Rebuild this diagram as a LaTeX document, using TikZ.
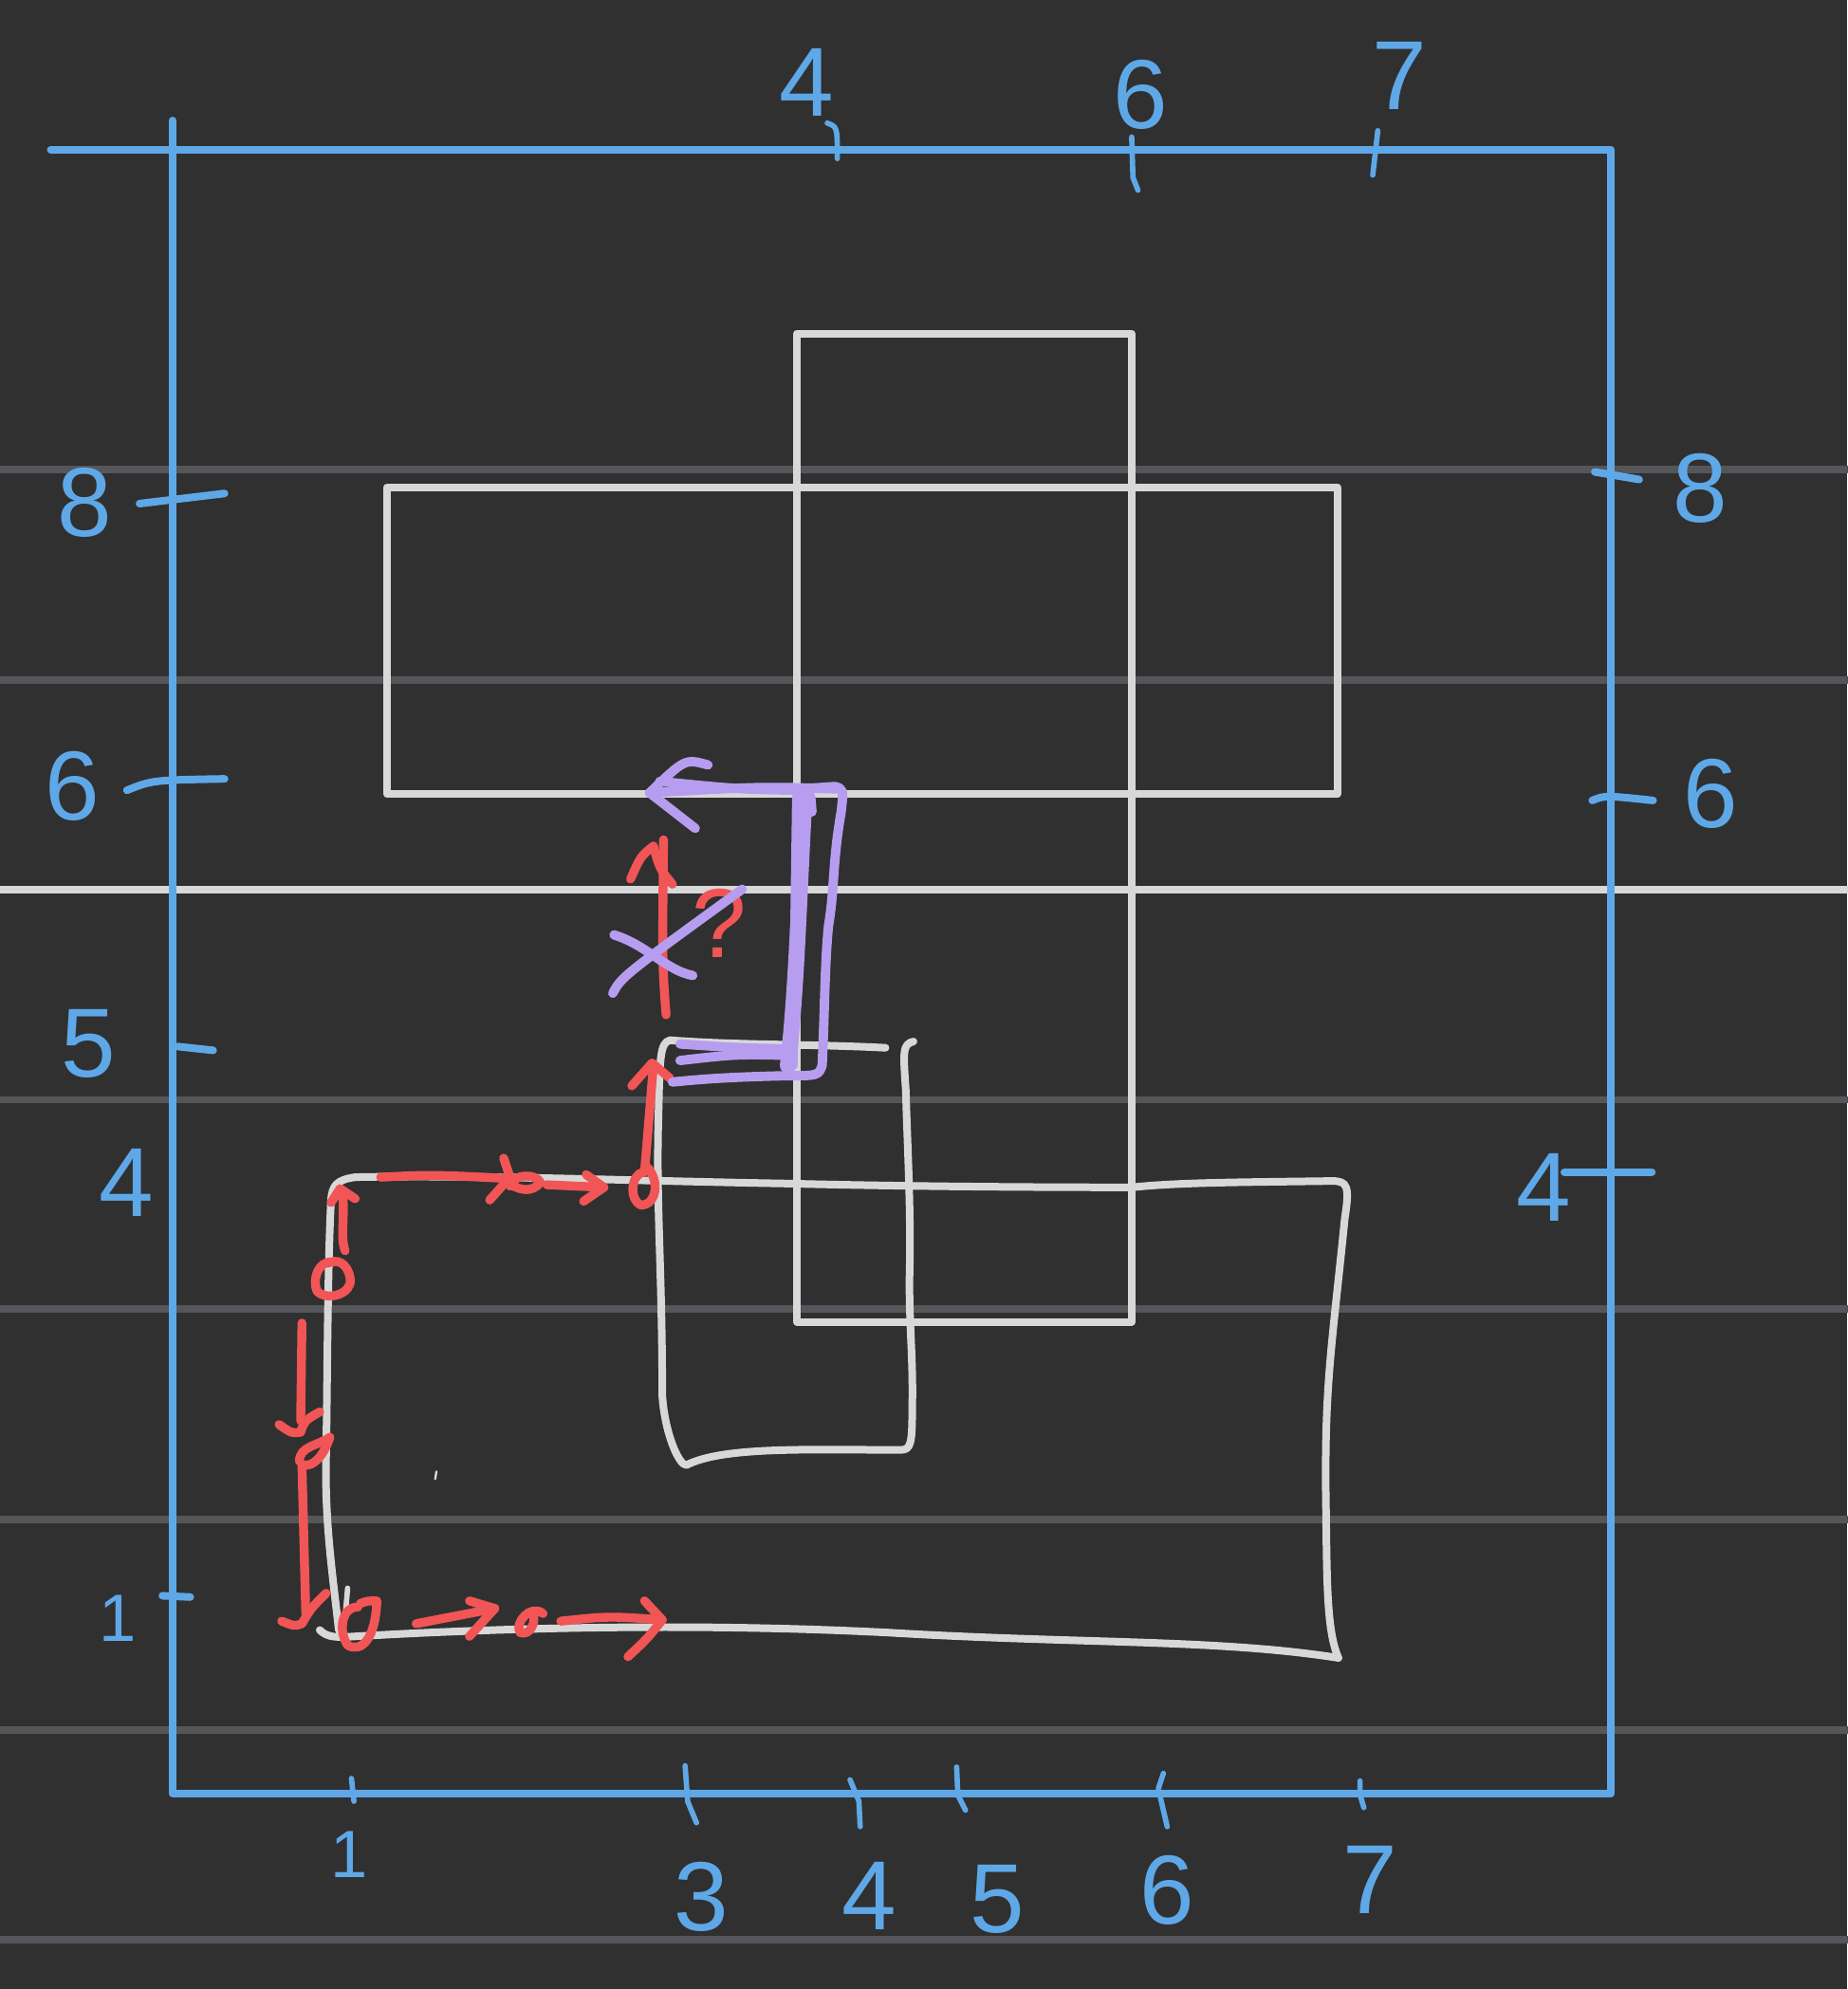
\documentclass[tikz,border=0pt]{standalone}
\usepackage{fontspec}
\setmainfont{Liberation Sans}
\definecolor{bgc}{HTML}{303030}
\definecolor{gridc}{HTML}{55565A}
\definecolor{wht}{HTML}{D8D8D8}
\definecolor{blu}{HTML}{5FA8E8}
\definecolor{redc}{HTML}{F25555}
\definecolor{purc}{HTML}{B69DF0}
\begin{document}
\begin{tikzpicture}[x=0.01cm,y=-0.01cm,line cap=round,line join=round,
  gridline/.style={draw=gridc,line width=1.6pt},
  wline/.style={draw=wht,line width=1.7pt},
  bline/.style={draw=blu,line width=1.7pt},
  rline/.style={draw=redc,line width=2pt},
  pline/.style={draw=purc,line width=2.1pt},
  lbl/.style={text=blu,font=\fontsize{22}{26}\selectfont,inner sep=0pt},
  slbl/.style={text=blu,font=\fontsize{15}{18}\selectfont,inner sep=0pt},
  qlbl/.style={text=redc,font=\fontsize{22}{26}\selectfont,inner sep=0pt}]
\fill[bgc] (0,0) rectangle (1456,1568);
\useasboundingbox (0,0) rectangle (1456,1568);
% grid
\foreach \yy in {370,536,867,1032,1198,1364,1529}
  \draw[gridline] (0,\yy) -- (1456,\yy);
\draw[wline] (0,701) -- (1456,701);
% blue frame
\draw[bline] (40,118) -- (1270,118) -- (1270,1414) -- (136,1414) -- (136,95);
% top ticks
\draw[bline,line width=1.2pt] (652,97) .. controls (660,100) .. (660,125);
\draw[bline,line width=1.2pt] (892,108) -- (893,140) -- (897,150);
\draw[bline,line width=1.2pt] (1086,103) -- (1082,138);
% left ticks
\draw[bline] (110,397) -- (177,389);
\draw[bline] (100,623) .. controls (120,615) .. (177,614);
\draw[bline] (140,825) -- (168,828);
\draw[bline] (128,1258) -- (150,1259);
% right ticks
\draw[bline] (1257,372) -- (1292,378);
\draw[bline] (1255,631) .. controls (1265,627) .. (1303,631);
\draw[bline] (1233,924) -- (1302,924);
% bottom ticks
\draw[bline,line width=1.2pt] (277,1402) -- (279,1420);
\draw[bline,line width=1.2pt] (540,1392) -- (542,1420) -- (549,1437);
\draw[bline,line width=1.2pt] (670,1403) -- (677,1420) -- (678,1440);
\draw[bline,line width=1.2pt] (754,1393) -- (755,1415) -- (761,1427);
\draw[bline,line width=1.2pt] (917,1398) -- (913,1410) -- (920,1440);
\draw[bline,line width=1.2pt] (1072,1404) -- (1072,1415) -- (1075,1425);
% labels
\node[lbl] (t4) at (636,65) {4};
\node[lbl] (t6) at (899,75) {6};
\node[lbl] (t7) at (1103,60) {7};
\node[lbl] (l8) at (67,396) {8};
\node[lbl] (l6) at (57,620) {6};
\node[lbl] (l5) at (70,823) {5};
\node[lbl] (l4) at (100,932) {4};
\node[slbl] (l1) at (93,1276) {1};
\node[lbl] (r8) at (1340,385) {8};
\node[lbl] (r6) at (1348,626) {6};
\node[lbl] (r4) at (1217,936) {4};
\node[slbl] (b1) at (275,1462) {1};
\node[lbl] (b3) at (553,1495) {3};
\node[lbl] (b4) at (685,1495) {4};
\node[lbl] (b5) at (786,1497) {5};
\node[lbl] (b6) at (920,1490) {6};
\node[lbl] (b7) at (1080,1482) {7};
% white rectangles
\draw[wline] (628,263) rectangle (892,1042);
\draw[wline] (305,384) rectangle (1054,626);
% big hand-drawn shape
\draw[wline] (252,1285) .. controls (258,1291) and (265,1291) .. (280,1290)
  .. controls (420,1282) and (560,1280) .. (700,1287)
  .. controls (850,1296) and (960,1292) .. (1055,1307)
  .. controls (1045,1285) and (1046,1240) .. (1045,1180)
  .. controls (1044,1090) and (1050,1060) .. (1060,960)
  .. controls (1064,935) and (1062,931) .. (1050,931)
  .. controls (980,932) and (930,932) .. (892,936)
  .. controls (800,936) and (700,935) .. (620,933)
  .. controls (500,931) and (380,926) .. (280,928)
  .. controls (265,930) and (262,935) .. (261,945)
  .. controls (258,1000) and (258,1100) .. (257,1150)
  .. controls (256,1200) and (262,1240) .. (267,1285);
\draw[wline,line width=1.2pt] (272,1275) -- (274,1252);
% inner hand-drawn shape
\draw[wline] (698,826) .. controls (640,823) and (580,824) .. (528,820)
  .. controls (520,822) and (520,835) .. (519,880)
  .. controls (517,950) and (522,1000) .. (522,1100)
  .. controls (524,1130) and (535,1155) .. (541,1155)
  .. controls (570,1140) and (640,1143) .. (710,1143)
  .. controls (718,1143) and (719,1138) .. (719,1110)
  .. controls (720,1070) and (716,1040) .. (717,1000)
  .. controls (718,950) and (715,900) .. (714,860)
  .. controls (712,830) and (711,823) .. (720,821);
\draw[draw=wht,line width=0.5pt] (344,1160) -- (343,1166);
% red strokes
\draw[rline] (238,1043) -- (237,1120);
\draw[rline] (220,1123) .. controls (230,1130) .. (237,1129) .. controls (240,1120) .. (252,1113);
\draw[rline] (236,1152) .. controls (236,1140) and (250,1140) .. (260,1133) .. controls (255,1148) and (247,1156) .. (240,1155);
\draw[rline] (238,1155) -- (241,1272);
\draw[rline] (222,1278) .. controls (232,1282) .. (238,1280) .. controls (245,1268) .. (257,1256);
\draw[rline] (282,1267) .. controls (270,1266) and (266,1285) .. (274,1297)
  .. controls (285,1303) and (296,1292) .. (297,1262) .. controls (290,1262) .. (284,1264);
\draw[rline] (328,1280) -- (390,1268);
\draw[rline] (370,1262) -- (390,1268) -- (370,1290);
\draw[rline] (428,1272) .. controls (418,1264) and (405,1280) .. (410,1287) .. controls (418,1290) and (423,1278) .. (420,1272);
\draw[rline] (442,1278) .. controls (480,1274) .. (522,1277);
\draw[rline] (508,1262) -- (522,1277) .. controls (510,1292) .. (495,1306);
\draw[rline] (263,995) .. controls (250,993) and (246,1010) .. (250,1018) .. controls (258,1026) and (278,1020) .. (276,1008) .. controls (274,995) and (265,992) .. (258,996);
\draw[rline] (272,986) .. controls (268,975) and (272,960) .. (270,940);
\draw[rline] (261,948) -- (268,937) -- (280,945);
\draw[rline] (300,928) .. controls (340,926) .. (400,929);
\draw[rline] (397,913) -- (402,928) -- (386,946);
\draw[rline] (397,930) .. controls (410,940) and (420,940) .. (426,932) .. controls (422,925) and (405,925) .. (402,935);
\draw[rline] (431,934) -- (476,936);
\draw[rline] (462,926) -- (476,936) -- (460,947);
\draw[rline] (507,924) .. controls (497,926) and (496,946) .. (505,950) .. controls (518,950) and (520,930) .. (510,920);
\draw[rline] (508,924) -- (515,840);
\draw[rline] (498,856) -- (514,838) -- (528,850);
\draw[rline] (525,800) .. controls (522,760) .. (523,662);
\draw[rline] (497,693) .. controls (505,675) .. (515,667) .. controls (520,685) .. (530,697);
\node[qlbl] (qm) at (567,728) {?};
% purple strokes
\draw[pline] (483,783) .. controls (490,770) .. (585,701);
\draw[pline] (484,737) .. controls (510,745) and (525,765) .. (546,769);
\draw[pline] (662,622) .. controls (600,620) .. (512,625);
\draw[pline] (558,603) .. controls (540,598) .. (512,625) -- (548,653);
\draw[pline] (520,616) .. controls (580,622) .. (630,623);
\draw[pline] (630,622) -- (658,620) .. controls (665,622) .. (663,640)
  .. controls (656,680) and (658,700) .. (653,730)
  .. controls (650,760) and (650,800) .. (648,840)
  .. controls (645,848) .. (620,848) .. controls (580,849) and (560,850) .. (530,853);
\draw[pline,line width=3.6pt] (634,630) .. controls (630,700) and (628,780) .. (621,840);
\draw[pline] (628,628) -- (625,840);
\draw[pline] (639,628) -- (640,640);
\draw[pline] (536,823) .. controls (580,826) .. (624,827);
\draw[pline] (536,836) .. controls (580,831) .. (624,832);
\end{tikzpicture}
\end{document}
